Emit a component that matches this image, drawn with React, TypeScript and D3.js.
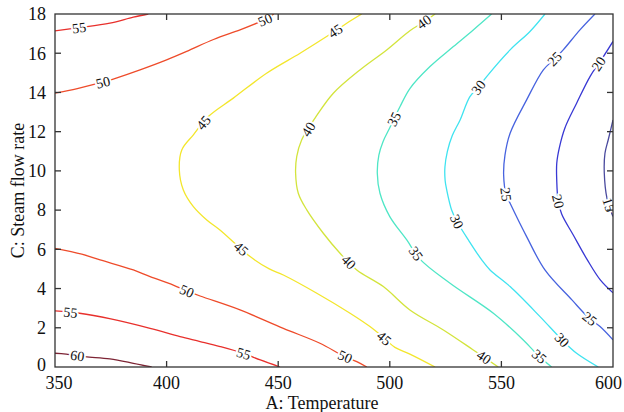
import React from "react";
import * as d3 from "d3";

// ---- data ----
const A_TICKS = [350, 400, 450, 500, 550, 600];
const C_TICKS = [0, 2, 4, 6, 8, 10, 12, 14, 16, 18];

// contour lines: [A: Temperature, C: Steam flow rate]
const contour60 = [[350, 0.7], [355, 0.66], [363.4, 0.53], [374.6, 0.41], [385.1, 0.19], [393.3, 0]];
const contour55Low = [[350, 2.86], [361, 2.74], [375, 2.45], [392.6, 1.97], [406, 1.55], [415, 1.3], [424, 1.04], [434.5, 0.69], [442, 0.36], [450.8, 0]];
const contour55Top = [[350, 17.14], [360.8, 17.3], [374.6, 17.53], [385.1, 17.84], [391.8, 18]];
const contour50Top = [[350, 13.96], [360, 14.2], [371.5, 14.52], [376.1, 14.68], [388.1, 15.15], [400, 15.66], [409, 16.09], [421, 16.7], [432.9, 17.19], [440.4, 17.53], [444.3, 17.72], [448, 18]];
const contour50Low = [[350, 6.05], [362, 5.75], [370.2, 5.46], [385.1, 4.95], [392.6, 4.61], [403, 4.18], [409.1, 3.88], [415, 3.62], [432.9, 2.91], [452.3, 1.97], [468.7, 1.21], [479, 0.58], [485.2, 0.27], [489.7, 0]];
const contour45 = [[487.4, 18], [480.7, 17.53], [471.7, 16.85], [459.8, 16.0], [444.8, 14.98], [429.9, 13.71], [418.7, 12.77], [412, 11.84], [406.8, 11.07], [405.7, 10.05], [407.5, 9.03], [412, 8.18], [418, 7.5], [423.9, 6.99], [437.4, 5.63], [446, 5.0], [452.3, 4.69], [467.3, 3.76], [482.2, 2.74], [491.1, 2.06], [497.2, 1.5], [502.3, 1.0], [509, 0.66], [520.3, 0]];
const contour40 = [[520.3, 18], [515.3, 17.6], [509, 17.15], [498.6, 16.17], [486.6, 15.15], [474.7, 13.96], [466.5, 12.69], [460.5, 11.58], [458.3, 10.73], [457.8, 9.88], [459, 8.86], [462.8, 8.01], [470.2, 6.82], [477.7, 5.8], [485.2, 4.95], [497.1, 4.1], [509, 2.91], [524, 1.89], [537.4, 0.87], [548.6, 0]];
const contour35 = [[545.6, 18], [537.4, 17.19], [528.5, 16.34], [518, 15.32], [509, 14.2], [504.6, 13.28], [500, 12.2], [497, 11.5], [495.1, 10.8], [494.4, 9.88], [495.6, 8.86], [500, 7.67], [507.6, 6.48], [513.5, 5.5], [527, 4.27], [546.4, 2.74], [559.8, 1.38], [566.4, 0.6], [572.5, 0]];
const contour30 = [[569.5, 18], [562.8, 17.11], [553.9, 16.17], [543.4, 14.81], [539.7, 14.26], [535.9, 13.79], [531.5, 12.6], [528, 11.8], [525.8, 11.0], [524.7, 10.2], [524.8, 9.5], [525.5, 9.03], [527.7, 8.01], [530.1, 7.42], [535.2, 6.48], [541.2, 5.46], [544.9, 4.95], [553.9, 4.1], [567.3, 2.57], [577.2, 1.38], [583.7, 0.7], [593.4, 0]];
const contour25 = [[591.9, 18], [585.2, 17.19], [577.7, 16.17], [573.8, 15.71], [568.8, 15.15], [561.3, 13.62], [553.9, 11.92], [551.6, 10.8], [551, 9.8], [552.1, 8.8], [553.9, 8.35], [561.3, 6.65], [569.5, 4.95], [581.6, 3.42], [589.2, 2.5], [594.2, 2.06], [600, 1.38]];
const contour20 = [[600, 16.6], [595.7, 15.83], [593.5, 15.46], [589.7, 14.81], [583.7, 13.45], [578.5, 12.2], [576, 11.2], [574.8, 10.39], [574.8, 9.5], [575.4, 8.5], [577, 7.8], [582.2, 6.73], [588.5, 5.46], [594.3, 4.44], [600, 3.78]];
const contour15 = [[600, 12.6], [597.9, 11.6], [596.4, 10.9], [596.1, 9.88], [597.3, 8.6], [599.4, 7.84], [600, 7.67]];

// contour label positions [A, C]
const labels60 = [[360.1, 0.61]];
const labels55 = [[356.9, 2.7], [434.5, 0.69], [360.8, 17.3]];
const labels50 = [[371.5, 14.52], [444.3, 17.65], [409.1, 3.88], [479.9, 0.5]];
const labels45 = [[475.7, 17.12], [417.2, 12.4], [432.9, 5.97], [497.2, 1.43]];
const labels40 = [[515.3, 17.6], [464, 12.09], [481.7, 5.36], [541.5, 0.38]];
const labels35 = [[501.7, 12.65], [510.8, 5.71], [566.4, 0.46]];
const labels30 = [[539.7, 14.26], [530.1, 7.42], [577.2, 1.38]];
const labels25 = [[573.8, 15.71], [552.1, 8.8], [589.2, 2.4]];
const labels20 = [[593.5, 15.46], [576, 8.47]];
const labels15 = [[597.3, 8.24]];

const LEVELS = [
  { level: 60, color: "#7d2434", lines: [contour60], labels: labels60 },
  { level: 55, color: "#e8302c", lines: [contour55Low, contour55Top], labels: labels55 },
  { level: 50, color: "#ee4b2a", lines: [contour50Top, contour50Low], labels: labels50 },
  { level: 45, color: "#f3e62c", lines: [contour45], labels: labels45 },
  { level: 40, color: "#d3e43c", lines: [contour40], labels: labels40 },
  { level: 35, color: "#4fe6c6", lines: [contour35], labels: labels35 },
  { level: 30, color: "#3fe3f0", lines: [contour30], labels: labels30 },
  { level: 25, color: "#4763df", lines: [contour25], labels: labels25 },
  { level: 20, color: "#3838d4", lines: [contour20], labels: labels20 },
  { level: 15, color: "#4a4a9e", lines: [contour15], labels: labels15 },
];

const W = 624;
const H = 412;
const X0 = 55, X1 = 613, Y0 = 367, Y1 = 14;
const FONT = "'Liberation Serif', 'Times New Roman', serif";

export default function App() {
  const x = d3.scaleLinear().domain([350, 600]).range([X0, X1]);
  const y = d3.scaleLinear().domain([0, 18]).range([Y0, Y1]);
  const line = d3
    .line<number[]>()
    .x((d) => x(d[0]))
    .y((d) => y(d[1]))
    .curve(d3.curveCatmullRom.alpha(0.5));

  const placeLabel = (pts: number[][][], lab: number[]) => {
    const px = x(lab[0]), py = y(lab[1]);
    let best = { d: Infinity, x: px, y: py, ang: 0 };
    pts.forEach((pts0) => {
      for (let i = 0; i < pts0.length - 1; i++) {
        const ax = x(pts0[i][0]), ay = y(pts0[i][1]);
        const bx = x(pts0[i + 1][0]), by = y(pts0[i + 1][1]);
        const dx = bx - ax, dy = by - ay;
        const len2 = dx * dx + dy * dy || 1;
        let t = ((px - ax) * dx + (py - ay) * dy) / len2;
        t = Math.max(0, Math.min(1, t));
        const cx = ax + t * dx, cy = ay + t * dy;
        const dd = (cx - px) ** 2 + (cy - py) ** 2;
        if (dd < best.d) {
          let ang = (Math.atan2(dy, dx) * 180) / Math.PI;
          if (ang > 90) ang -= 180;
          if (ang <= -90) ang += 180;
          best = { d: dd, x: cx, y: cy, ang };
        }
      }
    });
    return best;
  };

  const innerTicksA = A_TICKS.slice(1, -1);
  const innerTicksC = C_TICKS.slice(1, -1);

  return (
    <svg
      width={W}
      height={H}
      style={{ position: "absolute", left: 0, top: 0, background: "#fff" }}
      fontFamily={FONT}
    >
      <defs>
        <clipPath id="plotClip">
          <rect x={X0} y={Y1} width={X1 - X0} height={Y0 - Y1} />
        </clipPath>
      </defs>
      <rect x={0} y={0} width={W} height={H} fill="#fff" />

      <g clipPath="url(#plotClip)">
        {LEVELS.map((lv) =>
          lv.lines.map((pts, i) => (
            <path
              key={`${lv.level}-${i}`}
              d={line(pts as any) || ""}
              fill="none"
              stroke={lv.color}
              strokeWidth={1.3}
            />
          ))
        )}
        {LEVELS.map((lv) =>
          lv.labels.map((lab, i) => {
            const p = placeLabel(lv.lines, lab);
            return (
              <text
                key={`lab-${lv.level}-${i}`}
                transform={`translate(${p.x},${p.y}) rotate(${p.ang})`}
                textAnchor="middle"
                dy="0.35em"
                fontSize={14}
                fill="#111"
                stroke="#fff"
                strokeWidth={4}
                paintOrder="stroke"
                strokeLinejoin="round"
              >
                {lv.level}
              </text>
            );
          })
        )}
      </g>

      {/* frame */}
      <rect x={X0} y={Y1} width={X1 - X0} height={Y0 - Y1} fill="none" stroke="#333" strokeWidth={1.3} />
      {innerTicksA.map((t) => (
        <g key={`ta-${t}`} stroke="#333" strokeWidth={1.3}>
          <line x1={x(t)} x2={x(t)} y1={Y0} y2={Y0 - 6} />
          <line x1={x(t)} x2={x(t)} y1={Y1} y2={Y1 + 6} />
        </g>
      ))}
      {innerTicksC.map((t) => (
        <g key={`tc-${t}`} stroke="#333" strokeWidth={1.3}>
          <line x1={X0} x2={X0 + 6} y1={y(t)} y2={y(t)} />
          <line x1={X1} x2={X1 - 6} y1={y(t)} y2={y(t)} />
        </g>
      ))}

      {/* tick labels */}
      {A_TICKS.map((t, i) => {
        const last = i === A_TICKS.length - 1;
        const first = i === 0;
        return (
          <text
            key={`la-${t}`}
            x={last ? W - 2 : first ? x(t) + 4 : x(t)}
            y={389}
            textAnchor={last ? "end" : "middle"}
            fontSize={18}
            fill="#111"
          >
            {t}
          </text>
        );
      })}
      {C_TICKS.map((t) => (
        <text key={`lc-${t}`} x={46} y={y(t) - (t === 0 ? 2 : 0)} dy="0.35em" textAnchor="end" fontSize={18} fill="#111">
          {t}
        </text>
      ))}

      {/* axis titles */}
      <text x={322} y={409} textAnchor="middle" fontSize={18} fill="#111">
        A: Temperature
      </text>
      <text transform={`translate(24,${(Y0 + Y1) / 2}) rotate(-90)`} textAnchor="middle" fontSize={18} fill="#111">
        C: Steam flow rate
      </text>
    </svg>
  );
}
